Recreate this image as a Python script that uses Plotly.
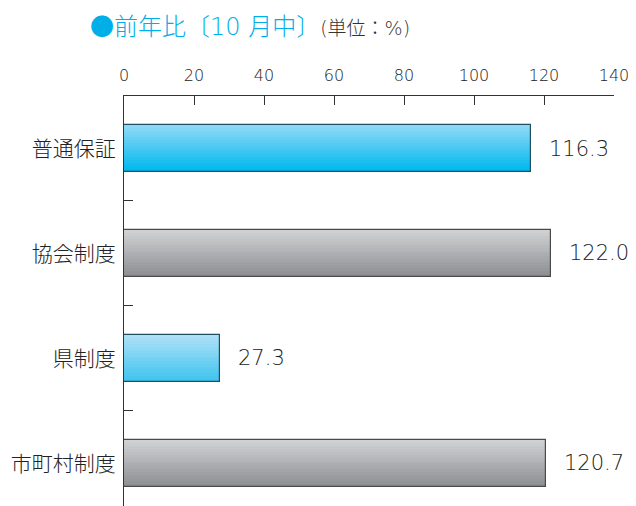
import plotly.graph_objects as go

categories = ["普通保証", "協会制度", "県制度", "市町村制度"]
values = [116.3, 122.0, 27.3, 120.7]
value_labels = ["116.3", "122.0", "27.3", "120.7"]
x_ticks = [0, 20, 40, 60, 80, 100, 120, 140]

FONT = "DejaVu Sans, Noto Sans CJK JP, sans-serif"
TXT = "#222222"

# gradient styles (top colour, bottom colour, border colour) per bar
styles = [
    ((0x8c, 0xd8, 0xf6), (0x00, 0xb8, 0xee), "#1f4f60"),
    ((0xcf, 0xd0, 0xd2), (0x8e, 0x8f, 0x93), "#4a4a4a"),
    ((0xab, 0xe0, 0xf7), (0x40, 0xc4, 0xef), "#1f4f60"),
    ((0xcf, 0xd0, 0xd2), (0x8e, 0x8f, 0x93), "#4a4a4a"),
]

BAR_W = 0.45
N = 16
fig = go.Figure()
for k in range(N):
    t = k / (N - 1)
    cols = []
    for top, bot, _ in styles:
        c = tuple(round(top[j] + (bot[j] - top[j]) * t) for j in range(3))
        cols.append("rgb(%d,%d,%d)" % c)
    fig.add_trace(go.Bar(
        x=values, y=categories, orientation="h",
        width=BAR_W / N + 0.002, offset=-BAR_W / 2 + k * BAR_W / N,
        marker=dict(color=cols, line=dict(width=0)),
        showlegend=False, hoverinfo="skip",
    ))
# outline
fig.add_trace(go.Bar(
    x=values, y=categories, orientation="h",
    width=BAR_W, offset=-BAR_W / 2,
    marker=dict(color="rgba(0,0,0,0)", line=dict(color=[s[2] for s in styles], width=1.2)),
    showlegend=False, hoverinfo="skip",
))

for v, cat, lab in zip(values, categories, value_labels):
    fig.add_annotation(x=v, y=cat, text=lab, showarrow=False,
                       xanchor="left", xshift=16,
                       font=dict(family=FONT, size=21, color=TXT, weight=300))

fig.add_annotation(xref="paper", yref="paper", x=-0.073, y=1.0, yshift=69,
                   xanchor="left", yanchor="middle", showarrow=False,
                   text="<span style='font-size:24px;color:#00aee8'>●前年比〔10 月中〕</span>"
                        "<span style='font-size:19px;color:#333333'>(単位：%)</span>",
                   font=dict(family=FONT, weight=300))

fig.update_layout(
    width=628, height=498,
    margin=dict(l=116, r=22, t=88, b=0),
    plot_bgcolor="white", paper_bgcolor="white",
    barmode="overlay", bargap=0,
    font=dict(family=FONT, color=TXT, weight=300),
    xaxis=dict(side="top", range=[0, 140], tickvals=x_ticks, automargin=False,
               showgrid=False, zeroline=False, showline=True,
               linecolor="#333333", linewidth=1,
               ticks="inside", ticklen=9, tickcolor="#333333",
               tickfont=dict(size=16, color=TXT, family=FONT, weight=300),
               ticklabelstandoff=8),
    yaxis=dict(range=[3.405, -0.5], showgrid=False, zeroline=False, automargin=False,
               showline=True, linecolor="#333333", linewidth=1,
               ticks="inside", ticklen=9, tickcolor="#333333",
               tickson="boundaries",
               tickfont=dict(size=21, color=TXT, family=FONT, weight=300),
               ticklabelstandoff=3),
)

fig.write_html("out.html")
